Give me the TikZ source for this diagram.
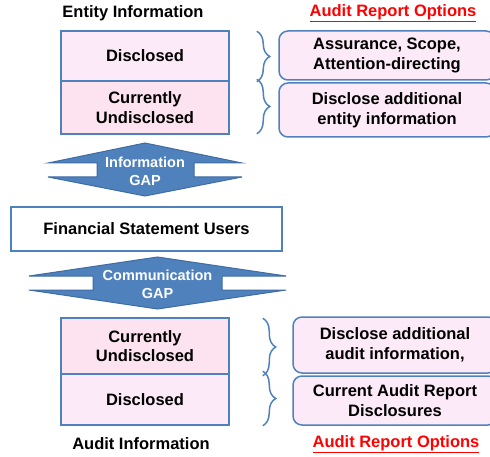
\documentclass[tikz,border=0pt]{standalone}
\usepackage{fontspec}
\setmainfont{Liberation Sans}
\usetikzlibrary{decorations.pathreplacing}

\definecolor{boxblue}{HTML}{4F81BD}
\definecolor{gapedge}{HTML}{3F6CA3}
\definecolor{pinkA}{HTML}{FDEAF8}
\definecolor{pinkB}{HTML}{FCE3EF}
\definecolor{optred}{HTML}{FF0000}

\tikzset{
  infobox/.style={draw=boxblue,line width=1.5pt,minimum width=168pt,align=center,
    font=\bfseries\fontsize{16.5}{19.5}\selectfont},
  optbox/.style={infobox,rounded corners=9pt,fill=pinkA},
  gaparrow/.style={fill=boxblue,draw=gapedge,line width=1pt},
  gaptext/.style={white,align=center,font=\bfseries\fontsize{14.5}{18}\selectfont},
  bracket/.style={draw=boxblue,line width=1.5pt,decorate,decoration={brace,amplitude=13pt}},
  heading/.style={font=\bfseries\fontsize{16.5}{19.5}\selectfont}
}

\begin{document}
\begin{tikzpicture}[x=1pt,y=-1pt]
\clip (0,0) rectangle (490,457);

% Entity information
\node[heading] (entTitle) at (133,13) {Entity Information};
\node[heading,optred] (entOpt) at (393,13) {\underline{Audit Report Options}};
\node[infobox,fill=pinkA,minimum height=50pt] (eDisc) at (145,56) {Disclosed};
\node[infobox,fill=pinkB,minimum height=53pt] (eUndisc) at (145,107.5) {Currently\\Undisclosed};

% Options for entity information
\node[optbox,minimum width=216pt,minimum height=49pt] (eAssure) at (387,55.5) {Assurance, Scope,\\Attention-directing};
\node[optbox,minimum width=216pt,minimum height=54pt] (eMore) at (387,110) {Disclose additional\\entity information};
\draw[bracket] ([xshift=27pt,yshift=-1pt]eDisc.north east) -- ([xshift=27pt]eDisc.south east);
\draw[bracket] ([xshift=27pt,yshift=1pt]eUndisc.north east) -- ([xshift=27pt,yshift=1pt]eUndisc.south east);

% Information GAP
\filldraw[gaparrow] (145,143) -- (242,163) -- (194,163) -- (194,177) -- (242,177) -- (145,196)
  -- (48,177) -- (97,177) -- (97,163) -- (48,163) -- cycle;
\node[gaptext] (infoGap) at (145,171) {Information\\GAP};

% Users
\node[infobox,fill=white,minimum width=271pt,minimum height=44pt] (users) at (146.5,229) {Financial Statement Users};

% Communication GAP
\filldraw[gaparrow] (157.5,257) -- (286,276) -- (222,276) -- (222,290) -- (286,290) -- (157.5,309)
  -- (29,290) -- (93,290) -- (93,276) -- (29,276) -- cycle;
\node[gaptext] (commGap) at (157.5,284) {Communication\\GAP};

% Audit information
\node[infobox,fill=pinkB,minimum height=56pt] (aUndisc) at (145,346) {Currently\\Undisclosed};
\node[infobox,fill=pinkA,minimum height=51pt] (aDisc) at (145,399.5) {Disclosed};

% Options for audit information
\node[optbox,minimum width=204pt,minimum height=56pt] (aMore) at (395,345) {Disclose additional\\audit information,};
\node[optbox,minimum width=204pt,minimum height=49pt] (aCurrent) at (395,400.5) {Current Audit Report\\Disclosures};
\draw[bracket] ([xshift=33pt,yshift=-1pt]aUndisc.north east) -- ([xshift=33pt,yshift=-1pt]aUndisc.south east);
\draw[bracket] ([xshift=33pt,yshift=2pt]aDisc.north east) -- ([xshift=33pt]aDisc.south east);

\node[heading] (audTitle) at (141,444) {Audit Information};
\node[heading,optred] (audOpt) at (396,444) {\underline{Audit Report Options}};

\end{tikzpicture}
\end{document}
